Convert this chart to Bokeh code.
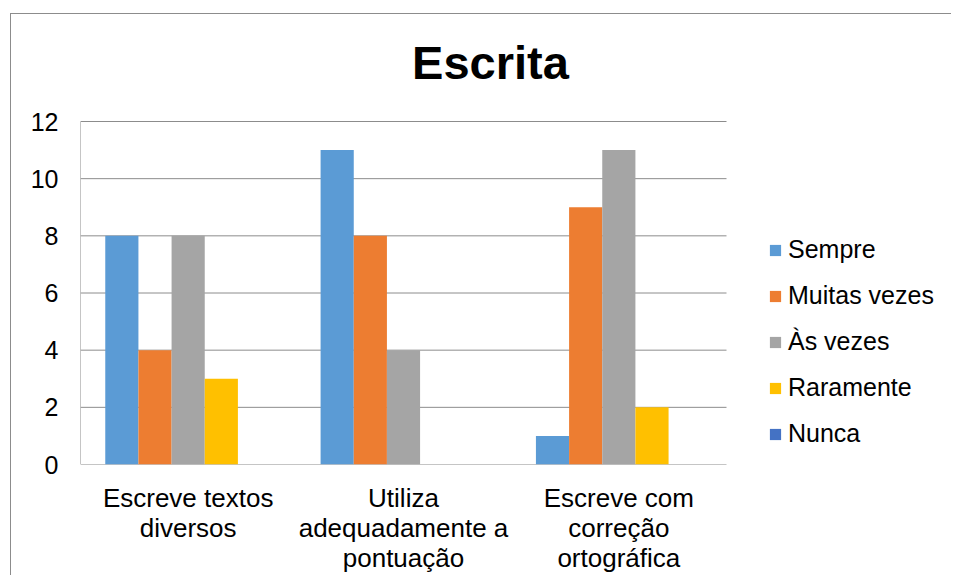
from bokeh.plotting import figure
from bokeh.models import ColumnDataSource, Legend, LegendItem, FixedTicker, Label
from bokeh.transform import dodge
from bokeh.embed import file_html
from bokeh.resources import INLINE

categories = ["Escreve textos diversos", "Utiliza adequadamente a pontuação", "Escreve com correção ortográfica"]
tick_labels = ["Escreve textos\ndiversos", "Utiliza\nadequadamente a\npontuação", "Escreve com\ncorreção\nortográfica"]
series_names = ["Sempre", "Muitas vezes", "Às vezes", "Raramente", "Nunca"]
sempre = [8, 11, 1]
muitas_vezes = [4, 8, 9]
as_vezes = [8, 4, 11]
raramente = [3, 0, 2]
nunca = [0, 0, 0]
colors = ["#5B9BD5", "#ED7D31", "#A5A5A5", "#FFC000", "#4472C4"]
y_ticks = [0, 2, 4, 6, 8, 10, 12]
y_max = 12

FONT = "Liberation Sans"
GRID = "#8C8C8C"

n = len(categories)
xpos = [i + 0.5 for i in range(n)]
source = ColumnDataSource(data=dict(x=xpos, s0=sempre, s1=muitas_vezes, s2=as_vezes, s3=raramente, s4=nunca))

left, right, bottom = 69, 5, 100
plot_w, plot_h = 646, 343          # pixel size of the category area
frame_w, frame_h = 866, 450        # full frame (incl. legend and title areas)
x_end = n * frame_w / plot_w
y_end = y_max * frame_h / plot_h

p = figure(x_range=(0, x_end), y_range=(0, y_end),
           frame_width=frame_w, frame_height=frame_h,
           output_backend="svg", toolbar_location=None,
           min_border_left=left, min_border_top=0,
           min_border_right=right, min_border_bottom=bottom,
           styles={"margin-left": "10px", "margin-top": "13px",
                   "border-top": "1px solid #8C8C8C", "border-left": "1px solid #8C8C8C"})
p.outline_line_color = None

# horizontal gridlines across the category area only (incl. baseline at 0)
p.segment(x0=[0] * len(y_ticks), x1=[n] * len(y_ticks), y0=y_ticks, y1=y_ticks,
          line_color=GRID, line_width=1)
# vertical axis line
p.segment(x0=[0], x1=[0], y0=[0], y1=[y_max], line_color=GRID, line_width=1)

bw = 0.154
items = []
for i, name in enumerate(series_names):
    r = p.vbar(x=dodge("x", (i - 2) * bw), top="s%d" % i, width=bw,
               source=source, fill_color=colors[i], line_color=None)
    items.append(LegendItem(label=name, renderers=[r]))

p.yaxis.ticker = FixedTicker(ticks=y_ticks)
p.yaxis.major_tick_line_color = None
p.yaxis.minor_tick_line_color = None
p.yaxis.axis_line_color = None
p.yaxis.major_label_text_font = FONT
p.yaxis.major_label_text_font_size = "25px"
p.yaxis.major_label_text_color = "#000000"
p.yaxis.major_label_standoff = 16

p.xaxis.ticker = FixedTicker(ticks=xpos)
p.xaxis.major_tick_line_color = None
p.xaxis.minor_tick_line_color = None
p.xaxis.axis_line_color = None
p.xaxis.major_label_text_font = FONT
p.xaxis.major_label_text_font_size = "26px"
p.xaxis.major_label_text_line_height = 1.0
p.xaxis.major_label_text_color = "#000000"
p.xaxis.major_label_standoff = 12
p.xaxis.major_label_overrides = {x: t for x, t in zip(xpos, tick_labels)}

p.xgrid.grid_line_color = None
p.ygrid.grid_line_color = None

legend = Legend(items=items, location=(688, 16), border_line_color=None,
                background_fill_alpha=0, padding=0, margin=0,
                glyph_width=14, glyph_height=14, label_standoff=6,
                label_text_font=FONT, label_text_font_size="25px", label_text_color="#000000",
                label_height=28, spacing=17)
p.add_layout(legend, "center")

title = Label(x=410, y=402, x_units="screen", y_units="screen", text="Escrita",
              text_font=FONT, text_font_size="47px", text_font_style="bold",
              text_align="center", text_baseline="alphabetic", text_color="#000000")
p.add_layout(title)

open("out.html", "w").write(file_html(p, INLINE))
